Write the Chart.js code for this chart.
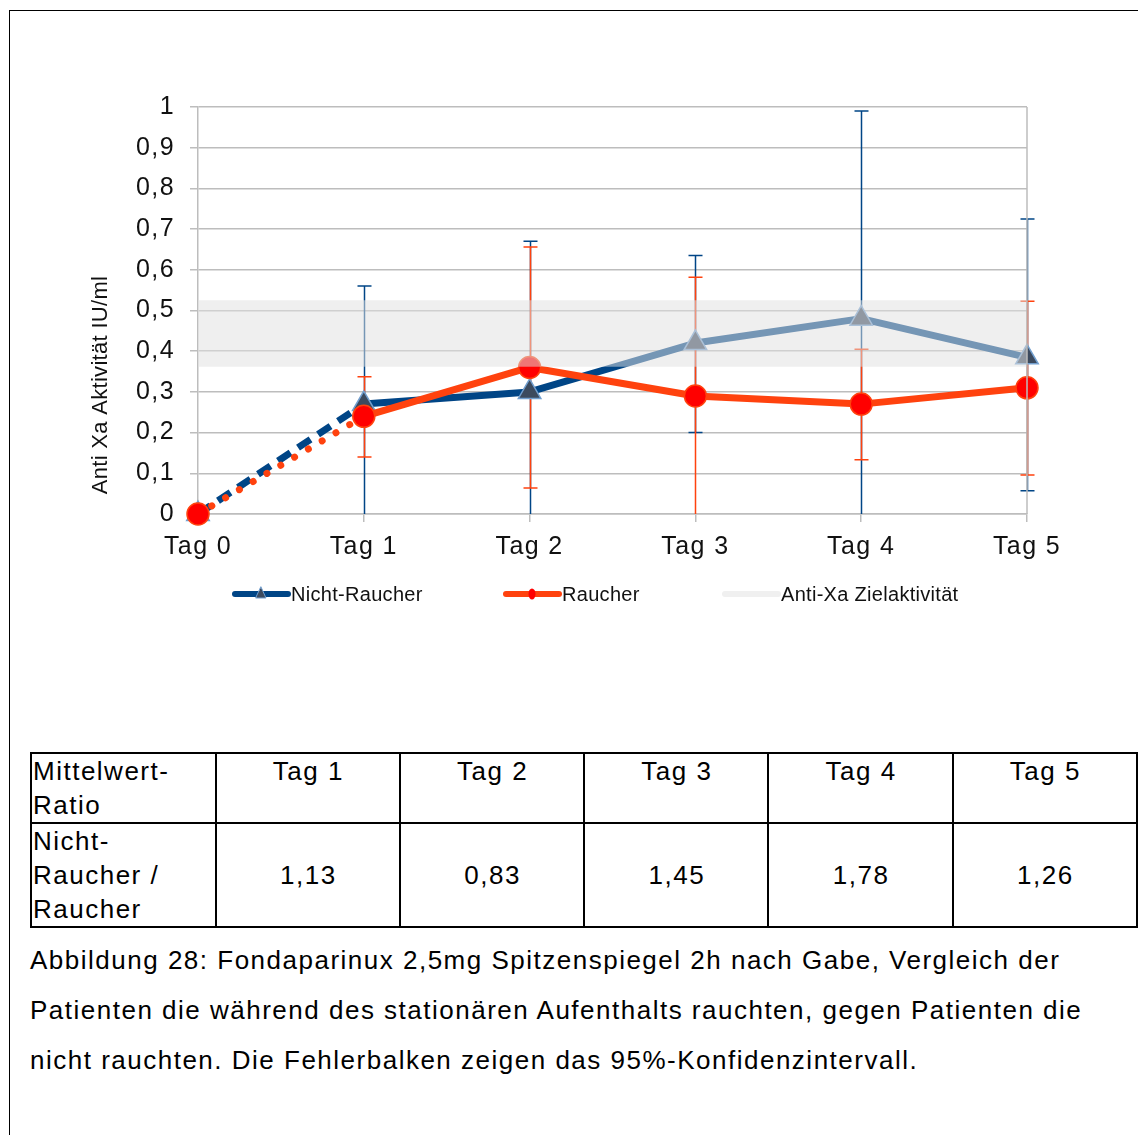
<!DOCTYPE html>
<html>
<head>
<meta charset="utf-8">
<script src="https://cdn.jsdelivr.net/npm/chart.js@4.4.1/dist/chart.umd.min.js"></script>
<style>
  html, body { margin: 0; padding: 0; background: #fff; }
  body { width: 1138px; height: 1135px; position: relative; overflow: hidden; font-family: "Liberation Sans", Arial, sans-serif; color: #000; }
  #frame { position: absolute; left: 9px; top: 10px; width: 1140px; height: 1140px; border-left: 1px solid #000; border-top: 1px solid #000; }
  #chartBox { position: absolute; left: 0; top: 0; width: 1138px; height: 700px; }
  table { position: absolute; left: 30px; top: 752px; border-collapse: collapse; font-size: 26px; line-height: 34px; letter-spacing: 1.5px; }
  td { border: 2px solid #000; width: 182px; padding: 0 0 0 1px; vertical-align: top; text-align: center; }
  td.first { text-align: left; }
  tr.r1 td { height: 68px; }
  tr.r2 td { height: 102px; vertical-align: middle; }
  tr.r2 td.first { vertical-align: top; }
  #caption { position: absolute; left: 30px; top: 935px; width: 1108px; font-size: 26px; line-height: 50px; letter-spacing: 1.5px; white-space: nowrap; }
</style>
</head>
<body>
<div id="frame"></div>
<div id="chartBox"><canvas id="c" width="1138" height="700"></canvas></div>
<table id="tbl"></table>
<div id="caption">Abbildung 28: Fondaparinux 2,5mg Spitzenspiegel 2h nach Gabe, Vergleich der<br>Patienten die während des stationären Aufenthalts rauchten, gegen Patienten die<br>nicht rauchten. Die Fehlerbalken zeigen das 95%-Konfidenzintervall.</div>
<script>
// ---- data ----
const categories = ['Tag 0', 'Tag 1', 'Tag 2', 'Tag 3', 'Tag 4', 'Tag 5'];
const nichtRaucher = [0, 0.27, 0.30, 0.42, 0.48, 0.385];
const raucher = [0, 0.24, 0.36, 0.29, 0.27, 0.31];
const nichtRaucherHigh = [null, 0.56, 0.67, 0.635, 0.99, 0.725];
const nichtRaucherLow = [null, -0.02, -0.07, 0.20, -0.03, 0.057];
const raucherHigh = [null, 0.337, 0.656, 0.582, 0.405, 0.523];
const raucherLow = [null, 0.14, 0.064, -0.01, 0.133, 0.096];
const zielOben = [0.525, 0.525, 0.525, 0.525, 0.525, 0.525];
const zielUnten = [0.362, 0.362, 0.362, 0.362, 0.362, 0.362];
const yTickLabels = ['0', '0,1', '0,2', '0,3', '0,4', '0,5', '0,6', '0,7', '0,8', '0,9', '1'];
const seriesNames = ['Nicht-Raucher', 'Raucher', 'Anti-Xa Zielaktivität'];
const yTitle = 'Anti Xa Aktivität IU/ml';
const tableHeader = ['Mittelwert-<br>Ratio', 'Tag 1', 'Tag 2', 'Tag 3', 'Tag 4', 'Tag 5'];
const tableRowLabel = 'Nicht-<br>Raucher /<br>Raucher';
const ratioValues = ['1,13', '0,83', '1,45', '1,78', '1,26'];

// ---- table ----
(function () {
  const t = document.getElementById('tbl');
  let h = '<tr class="r1">';
  tableHeader.forEach((s, i) => { h += '<td' + (i === 0 ? ' class="first"' : '') + '>' + s + '</td>'; });
  h += '</tr><tr class="r2"><td class="first">' + tableRowLabel + '</td>';
  ratioValues.forEach(v => { h += '<td>' + v + '</td>'; });
  h += '</tr>';
  t.innerHTML = h;
})();

const BLUE = '#004586';
const ORANGE = '#ff420e';
const GRID = '#bdbdbd';
const FONT = '"Liberation Sans", Arial, sans-serif';

const spacing = {
  id: 'spacing',
  beforeDraw(chart) { chart.ctx.letterSpacing = '1.4px'; },
  afterDatasetsDraw(chart) { chart.ctx.letterSpacing = '0px'; }
};

const errorBars = {
  id: 'errorBars',
  beforeDatasetsDraw(chart) {
    const ctx = chart.ctx, x = chart.scales.x, y = chart.scales.y, a = chart.chartArea;
    ctx.save();
    ctx.beginPath();
    ctx.rect(a.left - 20, a.top - 20, a.right - a.left + 40, a.bottom - a.top + 20);
    ctx.clip();
    const sets = [[nichtRaucherLow, nichtRaucherHigh, BLUE], [raucherLow, raucherHigh, ORANGE]];
    sets.forEach(([lo, hi, col]) => {
      ctx.strokeStyle = col;
      ctx.lineWidth = 1.5;
      for (let i = 0; i < categories.length; i++) {
        if (hi[i] == null) continue;
        const px = Math.round(x.getPixelForValue(i)) + 0.5;
        const yt = y.getPixelForValue(hi[i]);
        const yb = y.getPixelForValue(lo[i]);
        ctx.beginPath();
        ctx.moveTo(px, yt); ctx.lineTo(px, yb);
        ctx.moveTo(px - 7, yt); ctx.lineTo(px + 7, yt);
        ctx.moveTo(px - 7, yb); ctx.lineTo(px + 7, yb);
        ctx.stroke();
      }
    });
    ctx.restore();
  }
};

const decorations = {
  id: 'decorations',
  afterDraw(chart) {
    const ctx = chart.ctx, a = chart.chartArea;
    ctx.save();
    ctx.letterSpacing = '0.3px';
    // right frame line of plot area
    ctx.strokeStyle = GRID; ctx.lineWidth = 1.5;
    ctx.beginPath(); ctx.moveTo(a.right, a.top); ctx.lineTo(a.right, a.bottom); ctx.stroke();
    // y title
    ctx.fillStyle = '#111';
    ctx.font = '22px ' + FONT;
    ctx.translate(101, 385);
    ctx.rotate(-Math.PI / 2);
    ctx.textAlign = 'center'; ctx.textBaseline = 'middle';
    ctx.fillText(yTitle, 0, 0);
    ctx.restore();

    // legend
    ctx.save();
    ctx.letterSpacing = '0.3px';
    const ly = 594;
    const items = [
      { x: 232, color: BLUE, marker: 'triangle', text: seriesNames[0] },
      { x: 503, color: ORANGE, marker: 'circle', text: seriesNames[1] },
      { x: 722, color: '#f0f0f0', marker: null, text: seriesNames[2] }
    ];
    items.forEach(it => {
      ctx.strokeStyle = it.color; ctx.lineWidth = 6; ctx.lineCap = 'round';
      ctx.beginPath(); ctx.moveTo(it.x + 3, ly); ctx.lineTo(it.x + 56, ly); ctx.stroke();
      const mx = it.x + 29;
      if (it.marker === 'triangle') {
        ctx.fillStyle = '#3c4a5e'; ctx.strokeStyle = '#729fcf'; ctx.lineWidth = 1;
        ctx.beginPath(); ctx.moveTo(mx, ly - 7); ctx.lineTo(mx + 5, ly + 4); ctx.lineTo(mx - 5, ly + 4); ctx.closePath();
        ctx.fill(); ctx.stroke();
      } else if (it.marker === 'circle') {
        ctx.fillStyle = '#ff0000';
        ctx.beginPath(); ctx.ellipse(mx, ly, 3.5, 5.5, 0, 0, Math.PI * 2); ctx.fill();
      }
      ctx.fillStyle = '#111'; ctx.font = '20px ' + FONT;
      ctx.textAlign = 'left'; ctx.textBaseline = 'middle';
      ctx.fillText(it.text, it.x + 59, ly + 1);
    });
    ctx.restore();
  }
};

new Chart(document.getElementById('c'), {
  type: 'line',
  data: {
    labels: categories,
    datasets: [
      {
        label: seriesNames[0], data: nichtRaucher, order: 2,
        borderColor: BLUE, borderWidth: 7, borderJoinStyle: 'round',
        pointStyle: 'triangle', pointRadius: 13, pointHoverRadius: 13,
        pointBackgroundColor: '#3c4a5e', pointBorderColor: '#729fcf', pointBorderWidth: 1.5,
        clip: false, tension: 0,
        segment: { borderDash: c => c.p0DataIndex === 0 ? [15, 9] : undefined }
      },
      {
        label: seriesNames[1], data: raucher, order: 1,
        borderColor: ORANGE, borderWidth: 7, borderJoinStyle: 'round',
        pointStyle: 'circle', pointRadius: 11, pointHoverRadius: 11,
        pointBackgroundColor: '#ff0000', pointBorderColor: ORANGE, pointBorderWidth: 1.5,
        clip: false, tension: 0,
        segment: {
          borderDash: c => c.p0DataIndex === 0 ? [0.01, 16] : undefined,
          borderCapStyle: c => c.p0DataIndex === 0 ? 'round' : 'butt'
        }
      },
      {
        label: 'zielUnten', data: zielUnten, order: 0,
        borderWidth: 0, pointRadius: 0, fill: false
      },
      {
        label: seriesNames[2], data: zielOben, order: 0,
        borderWidth: 0, pointRadius: 0,
        fill: { target: 2 }, backgroundColor: 'rgba(225,225,225,0.52)'
      }
    ]
  },
  options: {
    responsive: false,
    animation: false,
    events: [],
    layout: { padding: { left: 118, right: 111, top: 107, bottom: 136 } },
    plugins: { legend: { display: false }, tooltip: { enabled: false } },
    scales: {
      x: {
        type: 'category', offset: false,
        grid: { display: true, drawOnChartArea: false, drawTicks: true, tickLength: 8, color: GRID, lineWidth: 1.5 },
        border: { display: true, color: GRID, width: 1.5 },
        ticks: { color: '#111', font: { family: FONT, size: 25 }, padding: 10, maxRotation: 0, autoSkip: false },
        afterFit: s => { s.height = 50; }
      },
      y: {
        min: 0, max: 1,
        grid: { color: GRID, lineWidth: 1.5, tickLength: 8 },
        border: { display: true, color: GRID, width: 1.5 },
        ticks: {
          stepSize: 0.1, color: '#111', padding: 15,
          font: { family: FONT, size: 25 },
          callback: (v, i) => yTickLabels[i]
        },
        afterFit: s => { s.width = 80; }
      }
    }
  },
  plugins: [spacing, errorBars, decorations]
});
</script>
</body>
</html>
